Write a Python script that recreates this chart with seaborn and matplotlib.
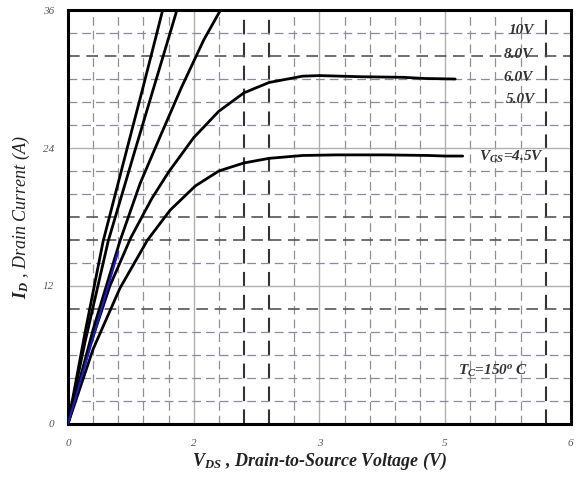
import numpy as np
import pandas as pd
import matplotlib
matplotlib.use("Agg")
import matplotlib.pyplot as plt
import seaborn as sns

## data (V_DS in V, I_D in A)
vds_10v = [0.0, 0.2, 0.42, 0.7, 0.9, 1.04, 1.13]
id_10v = [0.0, 7.8, 15.9, 23.8, 29.4, 33.4, 36.0]

vds_8v = [0.0, 0.2, 0.48, 0.8, 1.05, 1.3]
id_8v = [0.0, 7.0, 15.9, 23.8, 29.9, 36.0]

vds_6v = [0.0, 0.3, 0.62, 0.86, 1.1, 1.35, 1.62, 1.82]
id_6v = [0.0, 8.2, 15.9, 20.9, 25.0, 29.2, 33.4, 36.0]

vds_5v = [0.0, 0.25, 0.5, 0.75, 1.0, 1.2, 1.5, 1.8, 2.1, 2.4, 2.8, 3.0, 3.5, 4.0, 4.25, 4.62]
id_5v = [0.0, 6.5, 12.0, 16.2, 19.6, 21.9, 24.9, 27.2, 28.8, 29.7, 30.25, 30.3, 30.2, 30.15, 30.05, 30.0]

vds_45v = [0.0, 0.3, 0.62, 0.95, 1.22, 1.52, 1.8, 2.1, 2.4, 2.8, 3.2, 3.8, 4.3, 4.5, 4.71]
id_45v = [0.0, 6.5, 11.8, 16.0, 18.6, 20.7, 22.0, 22.7, 23.1, 23.35, 23.4, 23.4, 23.35, 23.3, 23.3]

vds_blue = [0.0, 0.6]
id_blue = [0.0, 15.0]

curve_names = ['10V', '8.0V', '6.0V', '5.0V', '4.5V']
curve_labels = ['10V', '8.0V', '6.0V', '5.0V', r'$V_{GS}$=4.5V']

xtick_pos = [0, 1.5, 3, 4.5, 6]
xtick_lab = ['0', '2', '3', '5', '6']
ytick_pos = [0, 12, 24, 36]

## long table for seaborn
frames = []
for name, xs, ys in zip(curve_names,
                        [vds_10v, vds_8v, vds_6v, vds_5v, vds_45v],
                        [id_10v, id_8v, id_6v, id_5v, id_45v]):
    frames.append(pd.DataFrame({'vds': xs, 'id': ys, 'vgs': name}))
df = pd.concat(frames, ignore_index=True)

sns.set_style("white")
plt.rcParams['font.family'] = ['Liberation Serif', 'DejaVu Serif']
plt.rcParams['mathtext.fontset'] = 'custom'
plt.rcParams['mathtext.it'] = 'Liberation Serif:italic:bold'
plt.rcParams['mathtext.rm'] = 'Liberation Serif:bold'

fig = plt.figure(figsize=(5.76, 4.8), dpi=100)
ax = fig.add_axes([0.118, 0.117, 0.873, 0.862])

## grid: dashed minor, solid major
grid_dash = (0, (7, 4))
for xv in np.arange(0.3, 6.0, 0.3):
    xv = round(xv, 1)
    if abs(xv / 1.5 - round(xv / 1.5)) < 1e-6:
        ax.axvline(xv, color='#b0b0a8', lw=1.0, zorder=1)
    else:
        dark = xv in (2.1, 2.4, 5.7)
        ax.axvline(xv, color='#333333' if dark else '#909090',
                   lw=1.5 if dark else 0.9, ls=grid_dash, zorder=1)
for yv in range(2, 36, 2):
    if yv % 12 == 0:
        ax.axhline(yv, color='#b0b0b0', lw=1.0, zorder=1)
    else:
        dark = yv in (32, 18, 16, 10)
        ax.axhline(yv, color='#555555' if dark else '#8a8a9c',
                   lw=1.2 if dark else 0.9, ls=grid_dash, zorder=1)

sns.lineplot(data=df, x='vds', y='id', hue='vgs', sort=False,
             palette={n: 'black' for n in curve_names}, linewidth=2.0,
             legend=False, ax=ax, zorder=3)
sns.lineplot(x=vds_blue, y=id_blue, color='#1a1acc', linewidth=1.5, ax=ax, zorder=4)

ax.set_xlim(0, 6)
ax.set_ylim(0, 36)
ax.set_xticks(xtick_pos)
ax.set_xticklabels(xtick_lab)
ax.set_yticks(ytick_pos)
ax.set_xticks(np.arange(0, 6.01, 0.3), minor=True)
ax.tick_params(axis='both', which='both', direction='in', length=4, width=1.2,
               labelsize=8, labelcolor='#555555', pad=10)
ax.tick_params(axis='x', which='major', pad=11)
for lab in ax.get_xticklabels() + ax.get_yticklabels():
    lab.set_fontstyle('italic')

for s in ax.spines.values():
    s.set_linewidth(2.2)
    s.set_color('black')

## curve labels
lab_style = dict(fontsize=11, fontweight='bold', fontstyle='italic', color='#333333',
                 ha='left', va='center', zorder=5)
ax.text(5.26, 34.2, '10V', **lab_style)
ax.text(5.2, 32.1, '8.0V', **lab_style)
ax.text(5.2, 30.1, '6.0V', **lab_style)
ax.text(5.22, 28.2, '5.0V', **lab_style)
ax.text(4.9, 23.2, curve_labels[4], **lab_style)
ax.text(4.65, 4.6, r'$T_C$=150$^o$ C', **lab_style)

ax.set_xlabel(r'$V_{DS}$ , Drain-to-Source Voltage (V)', fontsize=13,
              fontweight='bold', fontstyle='italic', color='#222222', labelpad=2)
ax.set_ylabel(r'$I_D$ , Drain Current (A)', fontsize=13,
              fontstyle='italic', color='#222222', labelpad=8)

plt.savefig('out.png', dpi=100)
